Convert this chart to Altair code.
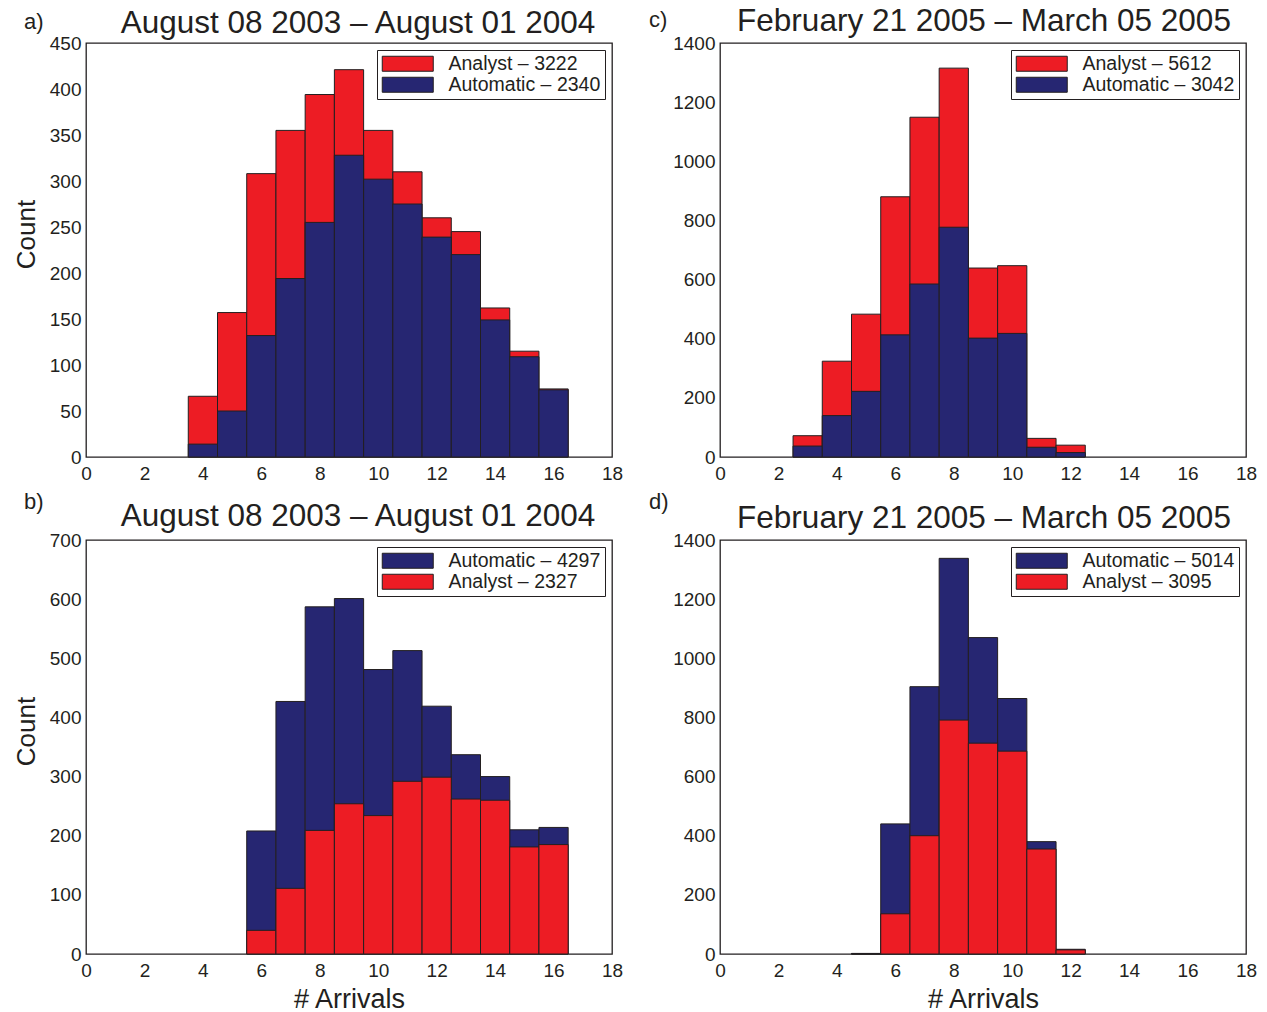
import altair as alt
import pandas as pd

# ---------------- data ----------------
bins_a = [4, 5, 6, 7, 8, 9, 10, 11, 12, 13, 14, 15, 16]
analyst_a = [66, 157, 308, 355, 394, 421, 355, 310, 260, 245, 162, 115, 74]
automatic_a = [14, 50, 132, 194, 255, 328, 302, 275, 239, 220, 149, 109, 73]

bins_c = [3, 4, 5, 6, 7, 8, 9, 10, 11, 12]
analyst_c = [72, 324, 483, 880, 1149, 1315, 639, 647, 63, 40]
automatic_c = [37, 140, 222, 413, 585, 777, 402, 418, 33, 15]

bins_b = [6, 7, 8, 9, 10, 11, 12, 13, 14, 15, 16]
automatic_b = [208, 427, 587, 601, 481, 513, 419, 337, 300, 210, 214]
analyst_b = [40, 111, 209, 254, 234, 292, 299, 262, 260, 181, 185]

bins_d = [5, 6, 7, 8, 9, 10, 11, 12]
automatic_d = [2, 440, 904, 1338, 1070, 864, 380, 16]
analyst_d = [0, 136, 400, 791, 713, 686, 355, 14]

titles = {
    "a": "August 08 2003 \u2013 August 01 2004",
    "b": "August 08 2003 \u2013 August 01 2004",
    "c": "February 21 2005 \u2013 March 05 2005",
    "d": "February 21 2005 \u2013 March 05 2005",
}
legend_a = ["Analyst \u2013 3222", "Automatic \u2013 2340"]
legend_c = ["Analyst \u2013 5612", "Automatic \u2013 3042"]
legend_b = ["Automatic \u2013 4297", "Analyst \u2013 2327"]
legend_d = ["Automatic \u2013 5014", "Analyst \u2013 3095"]

x_ticks = [0, 2, 4, 6, 8, 10, 12, 14, 16, 18]
y_ticks_a = list(range(0, 451, 50))
y_ticks_b = list(range(0, 701, 100))
y_ticks_cd = list(range(0, 1401, 200))

RED = "#ED1C24"
NAVY = "#262672"
INK = "#231F20"
FONT = "Liberation Sans"

W, H = 526, 414


def frame(bins, counts, label):
    return pd.DataFrame({
        "x0": [b - 0.5 for b in bins],
        "x1": [b + 0.5 for b in bins],
        "count": counts,
        "series": [label] * len(bins),
    })


def panel(tag, bins, back, back_label, front, front_label, legend_order,
          legend_colors, ymax, yticks, show_ytitle, show_xtitle, label_pos,
          title_pos):
    color = alt.Color(
        "series:N",
        scale=alt.Scale(domain=legend_order, range=legend_colors),
        legend=alt.Legend(
            title=None, orient="top-right", offset=7, padding=4,
            strokeColor=INK, fillColor="white",
            labelFont=FONT, labelFontSize=19.5, labelColor=INK,
            symbolType="M-3.4,-1H3.4V1H-3.4Z", symbolSize=225,
            symbolStrokeColor=INK, symbolStrokeWidth=1, symbolOpacity=1,
            symbolOffset=17, labelOffset=31, rowPadding=0,
        ),
    )
    xenc = alt.X(
        "x0:Q",
        scale=alt.Scale(domain=[0, 18], nice=False, zero=False),
        axis=alt.Axis(
            values=x_ticks, title="# Arrivals" if show_xtitle else None,
            labelPadding=7, labelFlush=False, titleFontSize=27,
            titleBaseline="alphabetic", titleY=53,
        ),
    )
    yenc = alt.Y(
        "count:Q",
        stack=None,
        scale=alt.Scale(domain=[0, ymax], nice=False),
        axis=alt.Axis(
            values=yticks, format="d", title="Count" if show_ytitle else None,
            labelPadding=5, labelFlush=False, titleFontSize=26,
            titleBaseline="alphabetic", titleX=-52, titleY=191,
        ),
    )
    base_back = alt.Chart(frame(bins, back, back_label)).mark_bar(
        stroke=INK, strokeWidth=1, opacity=1
    ).encode(x=xenc, x2="x1:Q", y=yenc, y2=alt.datum(0), color=color)
    base_front = alt.Chart(frame(bins, front, front_label)).mark_bar(
        stroke=INK, strokeWidth=1, opacity=1
    ).encode(x=xenc, x2="x1:Q", y=yenc, y2=alt.datum(0), color=color)
    lab = alt.Chart(pd.DataFrame({"t": [tag + ")"]})).mark_text(
        align="left", baseline="alphabetic", fontSize=22, font=FONT, color=INK
    ).encode(x=alt.value(label_pos[0]), y=alt.value(label_pos[1]), text="t:N")
    ttl = alt.Chart(pd.DataFrame({"t": [titles[tag]]})).mark_text(
        align="center", baseline="alphabetic", fontSize=31.5, font=FONT, color=INK
    ).encode(x=alt.value(title_pos[0]), y=alt.value(title_pos[1]), text="t:N")
    return alt.layer(base_back, base_front, lab, ttl).properties(width=W, height=H)


pa = panel("a", bins_a, analyst_a, legend_a[0], automatic_a, legend_a[1],
           legend_a, [RED, NAVY], 450, y_ticks_a, True, False, (-62, -14),
           (W / 2 + 9, -10))
pc = panel("c", bins_c, analyst_c, legend_c[0], automatic_c, legend_c[1],
           legend_c, [RED, NAVY], 1400, y_ticks_cd, False, False, (-71, -16),
           (W / 2 + 1, -12))
pb = panel("b", bins_b, automatic_b, legend_b[0], analyst_b, legend_b[1],
           legend_b, [NAVY, RED], 700, y_ticks_b, True, True, (-62, -31),
           (W / 2 + 9, -14))
pd_ = panel("d", bins_d, automatic_d, legend_d[0], analyst_d, legend_d[1],
            legend_d, [NAVY, RED], 1400, y_ticks_cd, False, True, (-71, -31),
            (W / 2 + 1, -12))

chart = alt.concat(
    pa, pc, pb, pd_, columns=2, spacing={"row": 83, "column": 108}, bounds="flush"
).resolve_scale(color="independent", x="independent", y="independent").properties(
    padding={"left": 12, "top": 5, "right": 5, "bottom": 0},
    background="white",
).configure_view(
    stroke=INK, strokeWidth=1.3
).configure_axis(
    domain=False, ticks=False, grid=False,
    labelFont=FONT, labelFontSize=19, labelColor=INK,
    titleFont=FONT, titleFontWeight="normal", titleColor=INK,
)

chart.save("out.html", embed_options={"renderer": "svg", "actions": False})
